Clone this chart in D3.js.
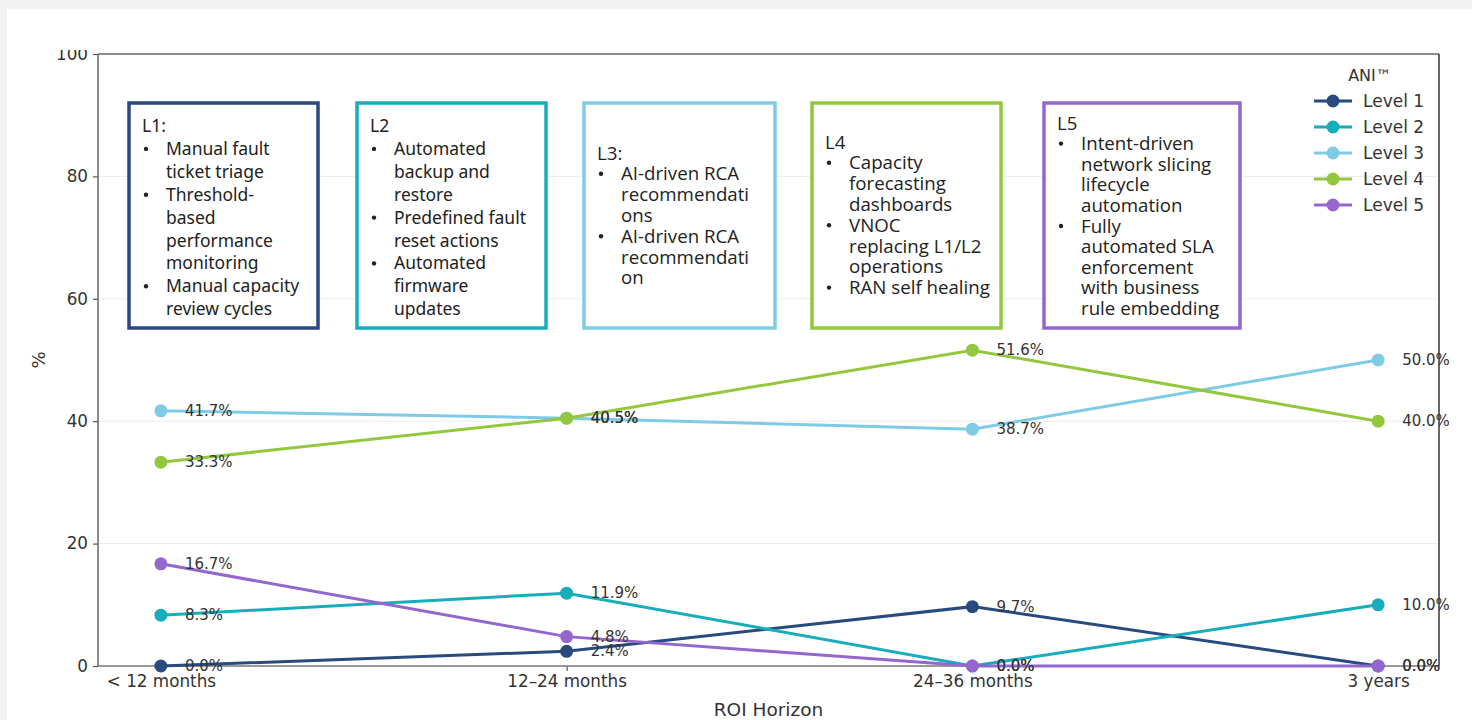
<!DOCTYPE html>
<html>
<head>
<meta charset="utf-8">
<script src="https://cdn.jsdelivr.net/npm/d3@7/dist/d3.min.js"></script>
<style>
  html, body { margin: 0; padding: 0; background: #f2f2f2; }
  svg { display: block; }
</style>
</head>
<body>
<svg id="chart" width="1472" height="720"></svg>
<script>
// ROI horizon categories
const categories = ["< 12 months", "12\u201324 months", "24\u201336 months", "3 years"];

// Share of respondents (%) per ANI level
const level1 = [0.0, 2.4, 9.7, 0.0];
const level2 = [8.3, 11.9, 0.0, 10.0];
const level3 = [41.7, 40.5, 38.7, 50.0];
const level4 = [33.3, 40.5, 51.6, 40.0];
const level5 = [16.7, 4.8, 0.0, 0.0];

const seriesNames = ["Level 1", "Level 2", "Level 3", "Level 4", "Level 5"];
const seriesColors = ["#284a7e", "#17adba", "#7fcbe5", "#93c83e", "#9367cd"];

const yTicks = [0, 20, 40, 60, 80, 100];

// Capability descriptions per level
const boxHeaders = ["L1:", "L2", "L3:", "L4", "L5"];
const boxBullets = [
  [["Manual fault", "ticket triage"], ["Threshold-", "based", "performance", "monitoring"], ["Manual capacity", "review cycles"]],
  [["Automated", "backup and", "restore"], ["Predefined fault", "reset actions"], ["Automated", "firmware", "updates"]],
  [["AI-driven RCA", "recommendati", "ons"], ["AI-driven RCA", "recommendati", "on"]],
  [["Capacity", "forecasting", "dashboards"], ["VNOC", "replacing L1/L2", "operations"], ["RAN self healing"]],
  [["Intent-driven", "network slicing", "lifecycle", "automation"], ["Fully", "automated SLA", "enforcement", "with business", "rule embedding"]]
];

const series = [level1, level2, level3, level4, level5];

// ---- layout ----
const W = 1472, H = 720;
const plot = { left: 98, right: 1439, top: 54, bottom: 666 };
const tickFont = "'DejaVu Sans', sans-serif";

const svg = d3.select("#chart");

svg.append("rect").attr("x", 0).attr("y", 0).attr("width", W).attr("height", H).attr("fill", "#f2f2f2");
svg.append("rect").attr("x", 7).attr("y", 9).attr("width", W - 7).attr("height", H - 9).attr("fill", "#ffffff");

// the y tick labels are trimmed just above the top of the frame
svg.append("clipPath").attr("id", "tickClip")
  .append("rect").attr("x", -200).attr("y", 50).attr("width", 400).attr("height", H - 50);

const x = d3.scaleLinear().domain([-0.155, categories.length - 1 + 0.15]).range([plot.left, plot.right]);
const y = d3.scaleLinear().domain([0, 100]).range([plot.bottom, plot.top]);

// gridlines
svg.append("g")
  .selectAll("line")
  .data(yTicks.filter(t => t > 0 && t < 100))
  .join("line")
  .attr("x1", plot.left).attr("x2", plot.right)
  .attr("y1", d => y(d)).attr("y2", d => y(d))
  .attr("stroke", "#ececec").attr("stroke-width", 1);

// axes
const yAxis = svg.append("g")
  .attr("transform", `translate(${plot.left},0)`)
  .attr("clip-path", "url(#tickClip)")
  .call(d3.axisLeft(y).tickValues(yTicks).tickSize(5).tickPadding(5));
const xAxis = svg.append("g")
  .attr("transform", `translate(0,${plot.bottom})`)
  .call(d3.axisBottom(x).tickValues(d3.range(categories.length)).tickFormat(i => categories[i]).tickSize(5).tickPadding(4));

[yAxis, xAxis].forEach(g => {
  g.select(".domain").remove();
  g.selectAll(".tick line").attr("stroke", "#555").attr("stroke-width", 1.2);
  g.selectAll(".tick text").attr("fill", "#333").style("font-family", tickFont).style("font-size", "16.8px");
});

// frame
const spines = [
  [plot.left, plot.top, plot.left, plot.bottom, "#666"],
  [plot.left, plot.top, plot.right, plot.top, "#666"],
  [plot.right, plot.top, plot.right, plot.bottom, "#333"],
  [plot.left, plot.bottom, plot.right, plot.bottom, "#777"]
];
svg.append("g").selectAll("line").data(spines).join("line")
  .attr("x1", d => d[0]).attr("y1", d => d[1]).attr("x2", d => d[2]).attr("y2", d => d[3])
  .attr("stroke", d => d[4]).attr("stroke-width", 1.5);

// axis titles
svg.append("text")
  .attr("transform", `translate(38,${(plot.top + plot.bottom) / 2}) rotate(-90)`)
  .attr("text-anchor", "middle").attr("dominant-baseline", "central")
  .style("font-family", tickFont).style("font-size", "18px").attr("fill", "#333")
  .text("%");
svg.append("text")
  .attr("x", (plot.left + plot.right) / 2).attr("y", 716)
  .attr("text-anchor", "middle")
  .style("font-family", tickFont).style("font-size", "18.5px").attr("fill", "#333")
  .text("ROI Horizon");

// description boxes
const boxLeft = [129, 357, 584, 812, 1044];
const boxWidth = [189, 189, 191, 189, 196];
const boxTop = 103, boxBottom = 328;
const boxFirstLine = [125, 125, 152, 141, 122];
const boxLineGap = [22.9, 22.9, 20.8, 20.8, 20.6];
const boxFontSize = [17.5, 17.5, 18.7, 18.7, 18.7];

boxHeaders.forEach((hdr, i) => {
  const g = svg.append("g");
  g.append("rect")
    .attr("x", boxLeft[i]).attr("y", boxTop)
    .attr("width", boxWidth[i]).attr("height", boxBottom - boxTop)
    .attr("fill", "#fff").attr("stroke", seriesColors[i]).attr("stroke-width", 3.5);
  const tx = boxLeft[i] + 13;
  const font = i < 2 ? "'Noto Sans', sans-serif" : "'Open Sans', sans-serif";
  const lines = [{ text: hdr, bullet: false, indent: false }];
  boxBullets[i].forEach(b => b.forEach((t, k) => lines.push({ text: t, bullet: k === 0, indent: true })));
  lines.forEach((ln, k) => {
    const ly = boxFirstLine[i] + k * boxLineGap[i];
    if (ln.bullet) {
      g.append("circle").attr("cx", tx + 4).attr("cy", ly + 1).attr("r", 2.2).attr("fill", "#222");
    }
    g.append("text")
      .attr("x", ln.indent ? tx + 24 : tx).attr("y", ly)
      .attr("dominant-baseline", "central")
      .style("font-family", font).style("font-size", boxFontSize[i] + "px")
      .attr("fill", "#222")
      .text(ln.text);
  });
});

// lines, markers, value labels
const line = d3.line().x((d, i) => x(i)).y(d => y(d));
series.forEach((vals, s) => {
  const g = svg.append("g");
  g.append("path").datum(vals).attr("d", line)
    .attr("fill", "none").attr("stroke", seriesColors[s]).attr("stroke-width", 3);
  g.selectAll("circle").data(vals).join("circle")
    .attr("cx", (d, i) => x(i)).attr("cy", d => y(d)).attr("r", 6.5)
    .attr("fill", seriesColors[s]);
  g.selectAll("text").data(vals).join("text")
    .attr("x", (d, i) => x(i) + 24).attr("y", d => y(d))
    .attr("dominant-baseline", "central")
    .style("font-family", tickFont).style("font-size", "15px")
    .attr("fill", "#333")
    .text(d => d.toFixed(1) + "%");
});

// legend
const lg = svg.append("g");
lg.append("text")
  .attr("x", 1370).attr("y", 75).attr("text-anchor", "middle").attr("dominant-baseline", "central")
  .style("font-family", tickFont).style("font-size", "16px").attr("fill", "#333")
  .text("ANI\u2122");
seriesNames.forEach((name, i) => {
  const ly = 101 + i * 26;
  lg.append("line").attr("x1", 1314).attr("x2", 1352).attr("y1", ly).attr("y2", ly)
    .attr("stroke", seriesColors[i]).attr("stroke-width", 3);
  lg.append("circle").attr("cx", 1333).attr("cy", ly).attr("r", 6.5).attr("fill", seriesColors[i]);
  lg.append("text").attr("x", 1363).attr("y", ly).attr("dominant-baseline", "central")
    .style("font-family", tickFont).style("font-size", "17px").attr("fill", "#333")
    .text(name);
});
</script>
</body>
</html>
